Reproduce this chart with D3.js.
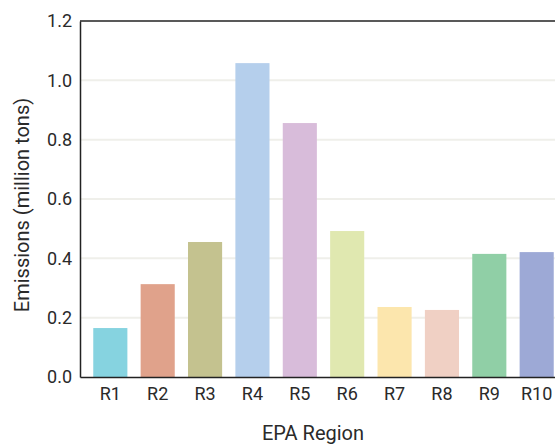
<!DOCTYPE html>
<html><head><meta charset="utf-8">
<script src="https://cdn.jsdelivr.net/npm/d3@7"></script>
<style>body{margin:0;background:#fff;} text{font-family:"Liberation Sans Narrow","Roboto",sans-serif;fill:#2a2a2a;}</style>
</head><body><svg id="c" width="555" height="445"></svg>
<script>
const categories = ["R1","R2","R3","R4","R5","R6","R7","R8","R9","R10"];
const values = [0.165,0.313,0.455,1.058,0.856,0.492,0.236,0.226,0.415,0.421];
const colors = ["#86d3e0","#e0a28b","#c4c28f","#b5cfec","#d8bcda","#e0e8b0","#fce6ad","#f0d0c4","#90cfa6","#9da9d6"];
const yTicks = [0,0.2,0.4,0.6,0.8,1.0,1.2];

const svg = d3.select("#c");
const L=80, R=567, T=21, B=377;
const x = d3.scaleBand().domain(categories).range([L,R]).paddingInner(0.28).paddingOuter(0.28);
const y = d3.scaleLinear().domain([0,1.2]).range([B,T]);

// gridlines
svg.append("g").selectAll("line").data(yTicks.filter(t=>t>0 && t<1.2)).join("line")
  .attr("x1",L).attr("x2",R).attr("y1",d=>y(d)).attr("y2",d=>y(d))
  .attr("stroke","#efefea").attr("stroke-width",2);

// bars
svg.append("g").selectAll("rect").data(values).join("rect")
  .attr("x",(d,i)=>x(categories[i])).attr("width",x.bandwidth())
  .attr("y",d=>y(d)).attr("height",d=>B-y(d))
  .attr("fill",(d,i)=>colors[i]);

// axes
const ya = d3.axisLeft(y).tickValues(yTicks).tickFormat(d3.format(".1f")).tickSize(0).tickPadding(8);
const gy = svg.append("g").attr("transform",`translate(${L},0)`).call(ya);
gy.select(".domain").attr("stroke","#222").attr("stroke-width",1.5);
gy.selectAll("text").attr("font-size",18).style("font-family",'"Liberation Sans Narrow","Roboto",sans-serif').attr("fill","#2a2a2a");

const xa = d3.axisBottom(x).tickSize(0).tickPadding(10);
const gx = svg.append("g").attr("transform",`translate(0,${B})`).call(xa);
gx.select(".domain").attr("stroke","#222").attr("stroke-width",1.5);
gx.selectAll("text").attr("font-size",18).style("font-family",'"Liberation Sans Narrow","Roboto",sans-serif').attr("fill","#2a2a2a");

// top border
svg.append("line").attr("x1",L).attr("x2",R).attr("y1",y(1.2)).attr("y2",y(1.2)).attr("stroke","#222").attr("stroke-width",1.5);

// titles
svg.append("text").attr("x",313).attr("y",440).attr("text-anchor","middle").attr("font-size",20).text("EPA Region");
svg.append("text").attr("transform","translate(29,205) rotate(-90)").attr("text-anchor","middle").attr("font-size",20).text("Emissions (million tons)");
</script></body></html>
